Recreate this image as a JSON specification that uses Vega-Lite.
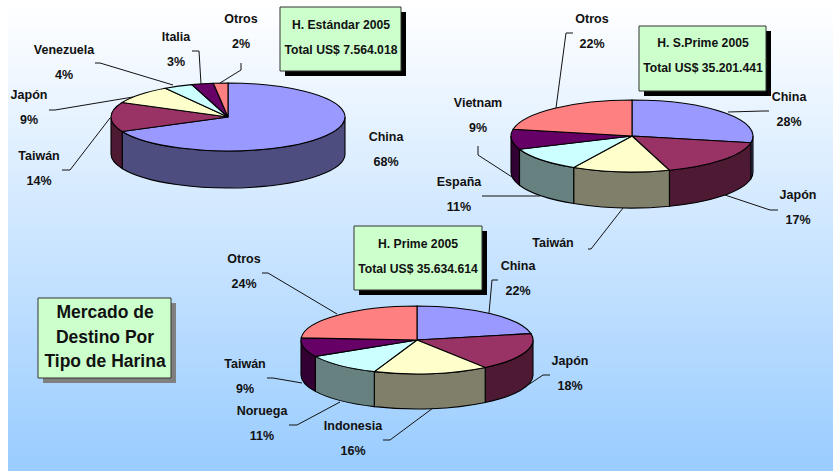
{
"$schema":"https://vega.github.io/schema/vega-lite/v6.json",
"width":833,"height":471,"padding":0,"autosize":{"type":"none"},
"background":"white","view":{"stroke":null},
"data":{"values":[
{"pie":"H. Estándar 2005","orden":1,"pais":"China","share":68},
{"pie":"H. Estándar 2005","orden":2,"pais":"Taiwán","share":14},
{"pie":"H. Estándar 2005","orden":3,"pais":"Japón","share":9},
{"pie":"H. Estándar 2005","orden":4,"pais":"Venezuela","share":4},
{"pie":"H. Estándar 2005","orden":5,"pais":"Italia","share":3},
{"pie":"H. Estándar 2005","orden":6,"pais":"Otros","share":2},
{"pie":"H. S.Prime 2005","orden":1,"pais":"China","share":28},
{"pie":"H. S.Prime 2005","orden":2,"pais":"Japón","share":17},
{"pie":"H. S.Prime 2005","orden":3,"pais":"Taiwán","share":13},
{"pie":"H. S.Prime 2005","orden":4,"pais":"España","share":11},
{"pie":"H. S.Prime 2005","orden":5,"pais":"Vietnam","share":9},
{"pie":"H. S.Prime 2005","orden":6,"pais":"Otros","share":22},
{"pie":"H. Prime 2005","orden":1,"pais":"China","share":22},
{"pie":"H. Prime 2005","orden":2,"pais":"Japón","share":18},
{"pie":"H. Prime 2005","orden":3,"pais":"Indonesia","share":16},
{"pie":"H. Prime 2005","orden":4,"pais":"Noruega","share":11},
{"pie":"H. Prime 2005","orden":5,"pais":"Taiwán","share":9},
{"pie":"H. Prime 2005","orden":6,"pais":"Otros","share":24}
]},
"transform":[
{"window":[{"op":"sum","field":"share","as":"acum"}],"groupby":["pie"],"sort":[{"field":"orden"}]},
{"calculate":"({'H. Estándar 2005':[228,117,117,34,37],'H. S.Prime 2005':[632,136,121,36,36],'H. Prime 2005':[417,340,116,34,35]})[datum.pie]","as":"g"},
{"calculate":"(datum.acum-datum.share)*2*PI/100","as":"a0"},
{"calculate":"datum.acum*2*PI/100","as":"a1"},
{"calculate":"datum.g[0]","as":"cx"},
{"calculate":"datum.g[1]","as":"cy"},
{"calculate":"'M0,0L'+round(100*datum.g[2]*sin(datum.a0))/100+','+round(-100*datum.g[3]*cos(datum.a0))/100+'A'+datum.g[2]+','+datum.g[3]+' 0 '+(datum.a1-datum.a0>PI?1:0)+' 1 '+round(100*datum.g[2]*sin(datum.a1))/100+','+round(-100*datum.g[3]*cos(datum.a1))/100+'Z'","as":"tapa"},
{"calculate":"max(datum.a0,PI/2)","as":"w0"},
{"calculate":"min(datum.a1,3*PI/2)","as":"w1"},
{"calculate":"'M'+round(100*datum.g[2]*sin(datum.w0))/100+','+round(-100*datum.g[3]*cos(datum.w0))/100+'A'+datum.g[2]+','+datum.g[3]+' 0 0 1 '+round(100*datum.g[2]*sin(datum.w1))/100+','+round(-100*datum.g[3]*cos(datum.w1))/100+'L'+round(100*datum.g[2]*sin(datum.w1))/100+','+round(100*(datum.g[4]-datum.g[3]*cos(datum.w1)))/100+'A'+datum.g[2]+','+datum.g[3]+' 0 0 0 '+round(100*datum.g[2]*sin(datum.w0))/100+','+round(100*(datum.g[4]-datum.g[3]*cos(datum.w0)))/100+'Z'","as":"pared"},
{"calculate":"({'H. Estándar 2005|China':[386,137],'H. Estándar 2005|Taiwán':[39,156,62,170,70,170,110,118],'H. Estándar 2005|Japón':[29,95,49,110,55,110,133,97],'H. Estándar 2005|Venezuela':[64,50,95,63,100,63,173,85],'H. Estándar 2005|Italia':[176,37,192,51,199,51,201,84],'H. Estándar 2005|Otros':[241,19,241,63,241,70,220,83],'H. S.Prime 2005|China':[789,97,769,111,763,111,728,112],'H. S.Prime 2005|Japón':[798,195,778,210,770,210,725,195],'H. S.Prime 2005|Taiwán':[553,243,588,249,591,249,623,208],'H. S.Prime 2005|España':[459,182,482,196,490,196,540,196],'H. S.Prime 2005|Vietnam':[478,103,478,146,478,155,512,177],'H. S.Prime 2005|Otros':[592,19,573,33,566,33,556,108],'H. Prime 2005|China':[518,266,498,280,492,280,489,313],'H. Prime 2005|Japón':[570,361,550,375,543,375,528,385],'H. Prime 2005|Indonesia':[353,426,383,440,390,440,433,408],'H. Prime 2005|Noruega':[262,411,289,425,297,425,340,402],'H. Prime 2005|Taiwán':[245,364,267,378,273,378,302,383],'H. Prime 2005|Otros':[244,259,262,273,268,273,337,314]})[datum.pie+'|'+datum.pais]","as":"k"},
{"calculate":"datum.k[0]","as":"tx"},{"calculate":"datum.k[1]","as":"ty"},
{"calculate":"datum.k[2]","as":"l0x"},{"calculate":"datum.k[3]","as":"l0y"},
{"calculate":"datum.k[4]","as":"l1x"},{"calculate":"datum.k[5]","as":"l1y"},
{"calculate":"datum.k[6]","as":"l2x"},{"calculate":"datum.k[7]","as":"l2y"},
{"calculate":"datum.pais+(datum.pie=='H. S.Prime 2005'&&datum.pais=='Taiwán'?'':'\\n'+datum.share+'%')","as":"etiqueta"}
],
"resolve":{"scale":{"color":"independent"}},
"layer":[
{"data":{"values":[{"fondo":"degradado"}]},
 "mark":{"type":"rect","fill":{"gradient":"linear","x1":0,"y1":0,"x2":0,"y2":1,"stops":[{"offset":0,"color":"#FFFFFF"},{"offset":1,"color":"#99CCFF"}]}},
 "encoding":{"x":{"datum":8,"type":"quantitative","scale":{"domain":[0,833],"nice":false,"zero":false},"axis":null},"x2":{"datum":833},"y":{"datum":4,"type":"quantitative","scale":{"domain":[471,0],"nice":false,"zero":false},"axis":null},"y2":{"datum":471}}},
{"transform":[{"filter":"datum.a1>PI/2&&datum.a0<3*PI/2"}],
 "mark":{"type":"point","filled":true,"stroke":"#000000","strokeWidth":1.1,"opacity":1,"size":4},
 "encoding":{"x":{"field":"cx","type":"quantitative","axis":null},"y":{"field":"cy","type":"quantitative","axis":null},
  "shape":{"field":"pared","type":"nominal","scale":null,"legend":null},
  "color":{"field":"orden","type":"nominal","legend":null,"scale":{"domain":[1,2,3,4,5,6],"range":["#4D4D80","#4D1933","#80806A","#678080","#330033","#804040"]}}}},
{"mark":{"type":"point","filled":true,"stroke":"#000000","strokeWidth":1.1,"opacity":1,"size":4},
 "encoding":{"x":{"field":"cx","type":"quantitative","axis":null},"y":{"field":"cy","type":"quantitative","axis":null},
  "shape":{"field":"tapa","type":"nominal","scale":null,"legend":null},
  "color":{"field":"orden","type":"nominal","legend":null,"scale":{"domain":[1,2,3,4,5,6],"range":["#9999FF","#993366","#FFFFCC","#CCFFFF","#660066","#FF8080"]}}}},
{"transform":[{"filter":"isValid(datum.l0x)"}],
 "mark":{"type":"rule","color":"#111111","strokeWidth":1},
 "encoding":{"x":{"field":"l0x","type":"quantitative","axis":null},"y":{"field":"l0y","type":"quantitative","axis":null},"x2":{"field":"l1x"},"y2":{"field":"l1y"}}},
{"transform":[{"filter":"isValid(datum.l0x)"}],
 "mark":{"type":"rule","color":"#111111","strokeWidth":1},
 "encoding":{"x":{"field":"l1x","type":"quantitative","axis":null},"y":{"field":"l1y","type":"quantitative","axis":null},"x2":{"field":"l2x"},"y2":{"field":"l2y"}}},
{"mark":{"type":"text","font":"Liberation Sans","fontWeight":"bold","fontSize":12.5,"lineBreak":"\n","lineHeight":25,"align":"center","baseline":"middle","color":"#111111"},
 "encoding":{"x":{"field":"tx","type":"quantitative","axis":null},"y":{"field":"ty","type":"quantitative","axis":null},"text":{"field":"etiqueta"}}},
{"data":{"name":"cajas","values":[
  {"texto":"H. Estándar 2005\nTotal US$ 7.564.018","color":"negra"},
  {"texto":"H. S.Prime 2005\nTotal US$ 35.201.441","color":"negra"},
  {"texto":"H. Prime 2005\nTotal US$ 35.634.614","color":"negra"},
  {"texto":"Mercado de\nDestino Por\nTipo de Harina","color":"gris"}]},
 "transform":[
  {"calculate":"indexof(datum.texto,'Est')>=0?[280,401,7,71]:indexof(datum.texto,'S.Prime')>=0?[639,766,26,91]:indexof(datum.texto,'H. Prime')>=0?[354,482,226,290]:[38,171,298,378]","as":"b"},
  {"calculate":"datum.b[0]+5","as":"x0"},{"calculate":"datum.b[1]+5","as":"x1"},{"calculate":"datum.b[2]+5","as":"y0"},{"calculate":"datum.b[3]+5","as":"y1"}],
 "mark":{"type":"rect"},
 "encoding":{"x":{"field":"x0","type":"quantitative","axis":null},"x2":{"field":"x1"},"y":{"field":"y0","type":"quantitative","axis":null},"y2":{"field":"y1"},
  "color":{"field":"color","type":"nominal","legend":null,"scale":{"domain":["negra","gris"],"range":["#000000","#808080"]}}}},
{"data":{"name":"cajas"},
 "transform":[
  {"calculate":"indexof(datum.texto,'Est')>=0?[280,401,7,71]:indexof(datum.texto,'S.Prime')>=0?[639,766,26,91]:indexof(datum.texto,'H. Prime')>=0?[354,482,226,290]:[38,171,298,378]","as":"b"},
  {"calculate":"datum.b[0]","as":"x0"},{"calculate":"datum.b[1]","as":"x1"},{"calculate":"datum.b[2]","as":"y0"},{"calculate":"datum.b[3]","as":"y1"}],
 "mark":{"type":"rect","fill":"#CCFFCC","stroke":"#333333","strokeWidth":1},
 "encoding":{"x":{"field":"x0","type":"quantitative","axis":null},"x2":{"field":"x1"},"y":{"field":"y0","type":"quantitative","axis":null},"y2":{"field":"y1"}}},
{"data":{"name":"cajas"},
 "transform":[
  {"calculate":"indexof(datum.texto,'Est')>=0?[341,25]:indexof(datum.texto,'S.Prime')>=0?[703,43]:indexof(datum.texto,'H. Prime')>=0?[418,244]:[105,313]","as":"b"},
  {"calculate":"datum.b[0]","as":"x0"},{"calculate":"datum.b[1]","as":"y0"}],
 "mark":{"type":"text","font":"Liberation Sans","fontWeight":"bold","lineBreak":"\n","lineHeight":24.5,"align":"center","baseline":"middle","color":"#111111"},
 "encoding":{"x":{"field":"x0","type":"quantitative","axis":null},"y":{"field":"y0","type":"quantitative","axis":null},"text":{"field":"texto"},
  "size":{"condition":{"test":"datum.color=='gris'","value":17.5},"value":12.2}}}
]
}
